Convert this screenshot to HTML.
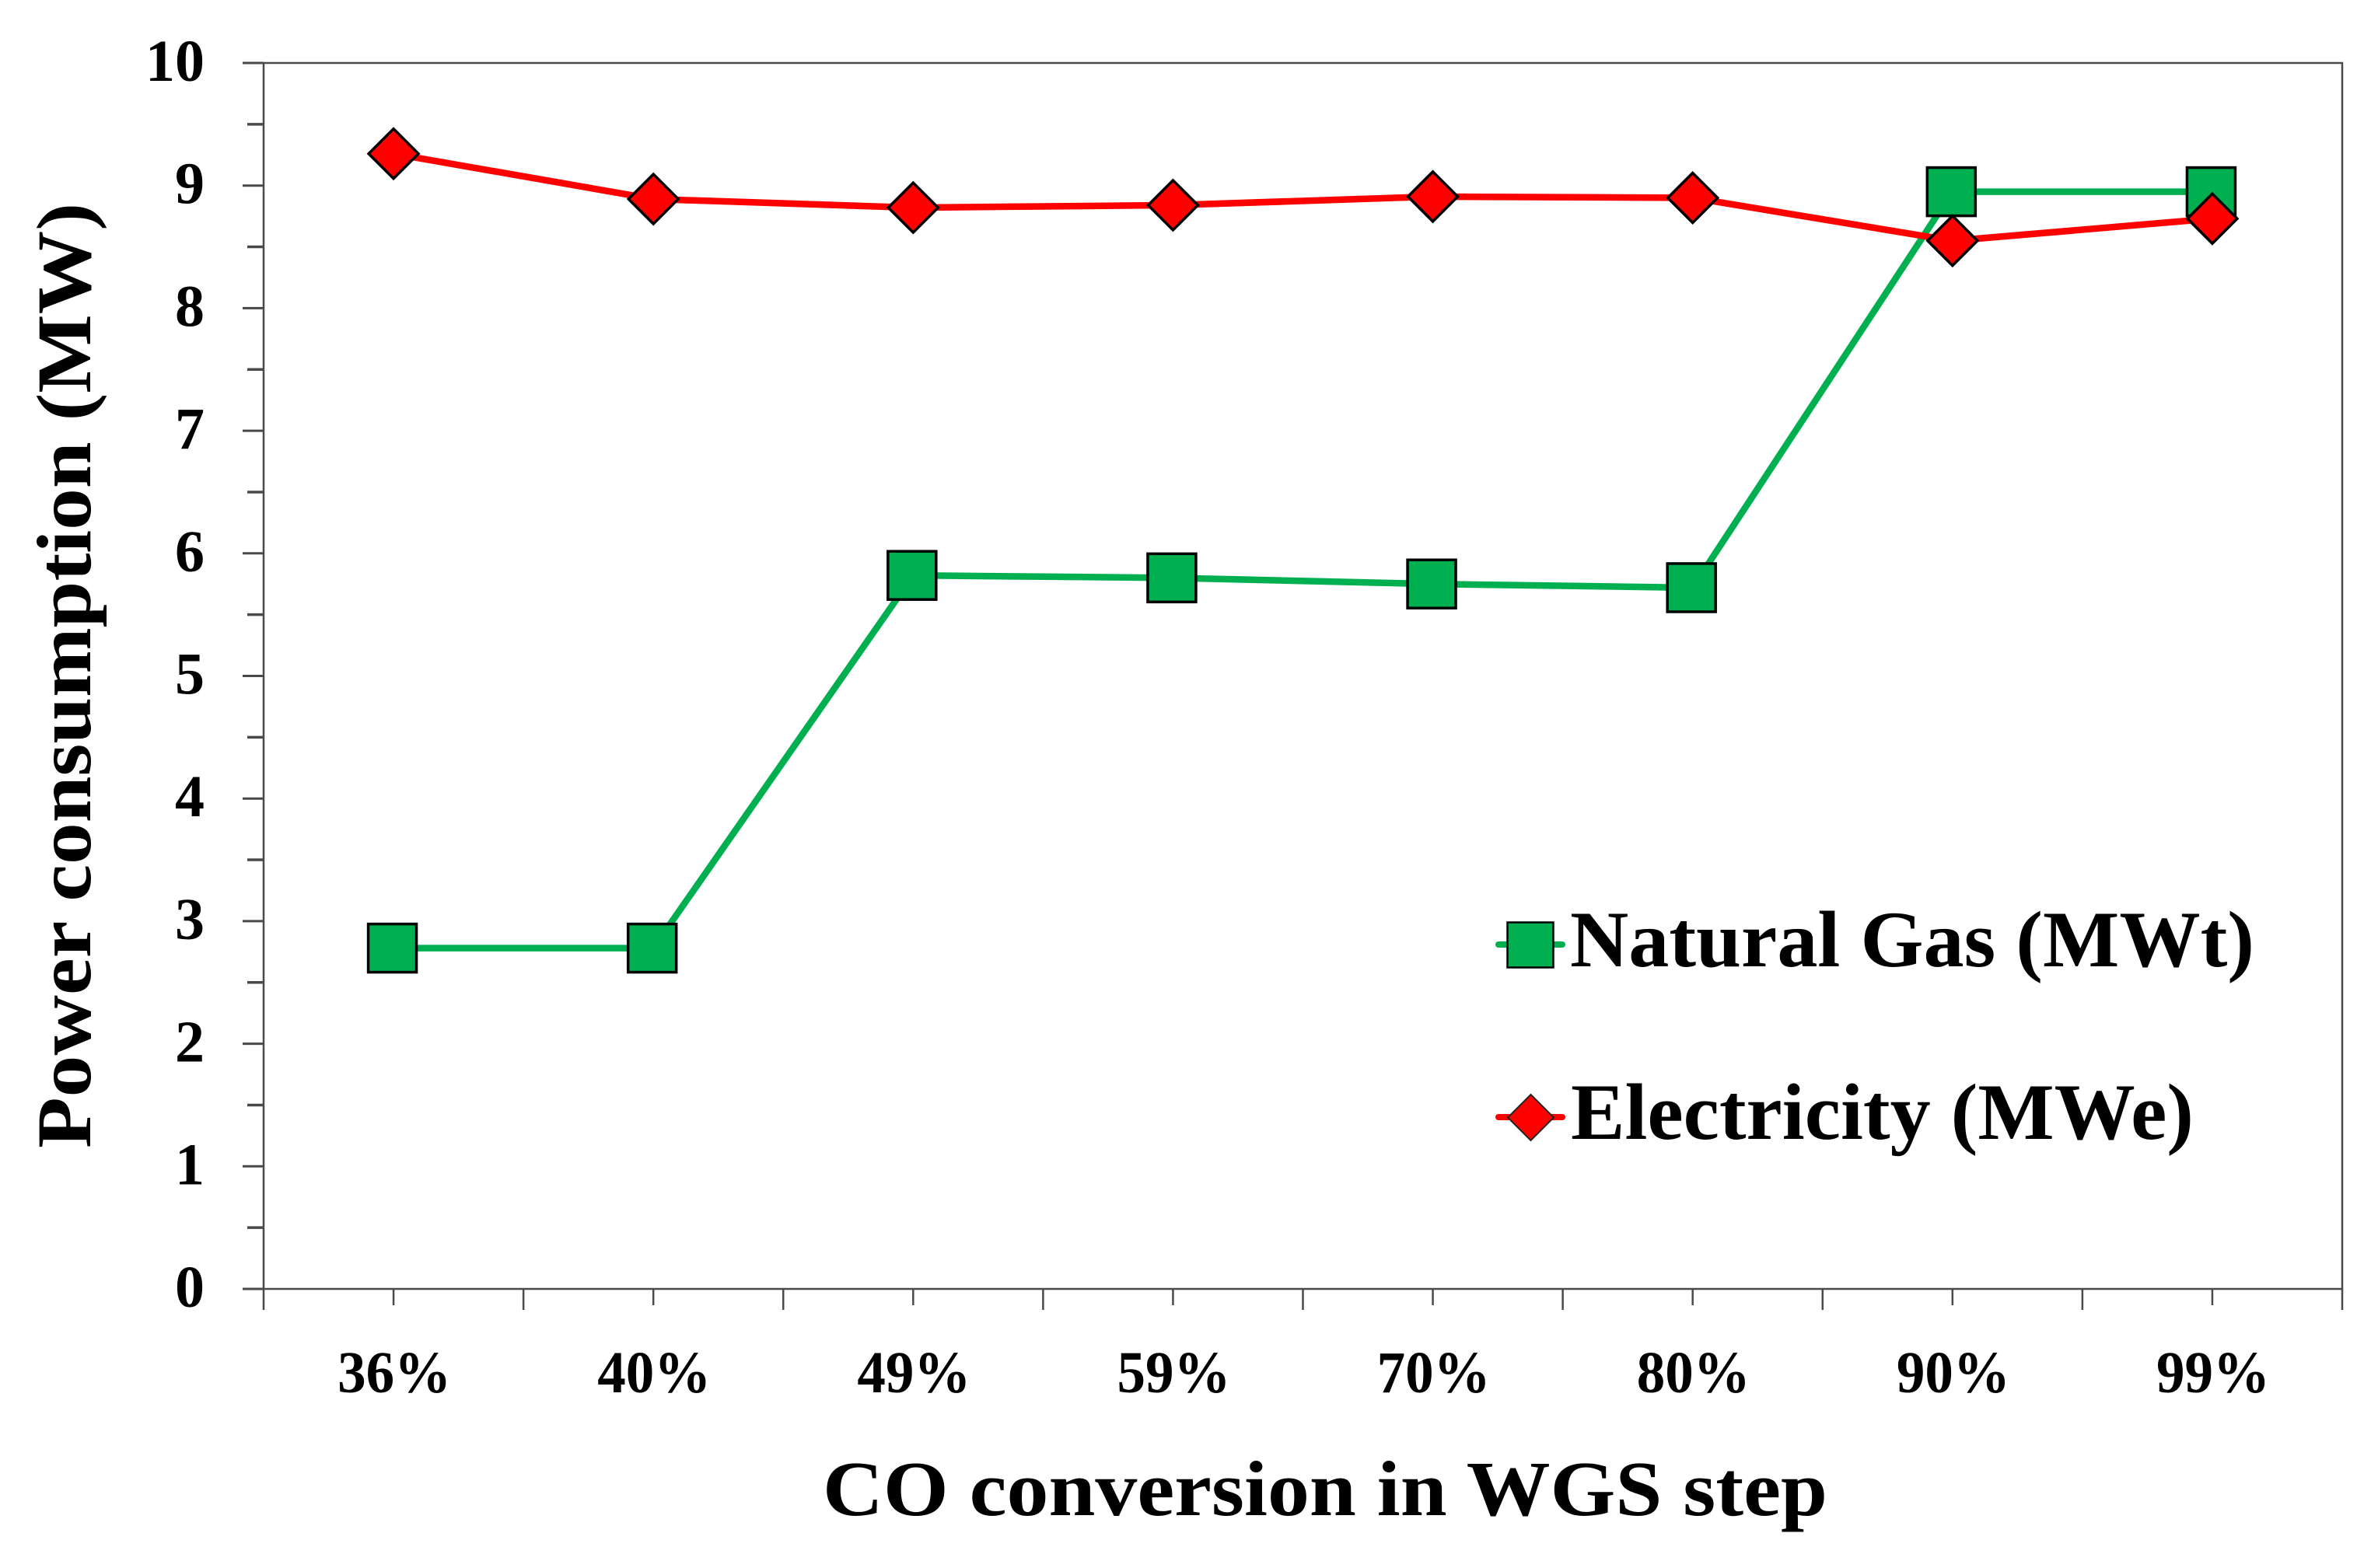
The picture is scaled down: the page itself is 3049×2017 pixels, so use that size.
<!DOCTYPE html>
<html lang="en">
<head>
<meta charset="utf-8">
<title>Power consumption vs CO conversion</title>
<style>
html,body{margin:0;padding:0;background:#fff;}
svg{display:block;}
text{font-family:"Liberation Serif","Noto Serif CJK SC",serif;font-weight:700;fill:#000;}
</style>
</head>
<body>
<svg id="chart" xmlns="http://www.w3.org/2000/svg" width="3049" height="2017" viewBox="0 0 3049 2017">
  <rect x="0" y="0" width="3049" height="2017" fill="#fff"/>
  <g id="axes"></g>
  <g id="series"></g>
  <text x="1058" y="1949" font-size="101" textLength="1292" lengthAdjust="spacingAndGlyphs">CO conversion in WGS step</text>
  <text transform="translate(116,1477) rotate(-90)" font-size="100" textLength="1216" lengthAdjust="spacingAndGlyphs">Power consumption (MW)</text>
  <g>
    <g>
      <line x1="1927" y1="1215" x2="2009" y2="1215" stroke="#00b050" stroke-width="8" stroke-linecap="round"/>
      <rect x="1938.5" y="1186.5" width="59" height="58" fill="#00b050" stroke="#000" stroke-width="2.5"/>
      <text x="2019" y="1243" font-size="103" textLength="880" lengthAdjust="spacingAndGlyphs">Natural Gas (MWt)</text>
    </g>
    <g>
      <line x1="1927" y1="1437" x2="2009" y2="1437" stroke="#ff0000" stroke-width="8" stroke-linecap="round"/>
      <polygon points="1968.5,1408 1998,1437.5 1968.5,1467 1939,1437.5" fill="#ff0000" stroke="#222" stroke-width="2"/>
      <text x="2020" y="1465" font-size="103" textLength="801" lengthAdjust="spacingAndGlyphs">Electricity (MWe)</text>
    </g>
  </g>
</svg>
<script>
var categories = ['36%', '40%', '49%', '59%', '70%', '80%', '90%', '99%'];
var naturalGasValues = [2.78, 2.78, 5.82, 5.80, 5.75, 5.72, 8.95, 8.95];
var electricityValues = [9.26, 8.89, 8.82, 8.84, 8.91, 8.90, 8.55, 8.73];
var yTickLabels = [0, 1, 2, 3, 4, 5, 6, 7, 8, 9, 10];

var plotLeft = 339, plotRight = 3012, plotTop = 81, plotBottom = 1658;
var yMin = 0, yMax = 10;
var NS = 'http://www.w3.org/2000/svg';
var axes = document.getElementById('axes');
var series = document.getElementById('series');
var axisColor = '#4a4a4a';

function xAt(i) { return plotLeft + (i + 0.5) * (plotRight - plotLeft) / categories.length; }
function xEdge(i) { return plotLeft + i * (plotRight - plotLeft) / categories.length; }
function yAt(v) { return plotBottom - (v - yMin) * (plotBottom - plotTop) / (yMax - yMin); }

function make(parent, tag, attrs) {
  var el = document.createElementNS(NS, tag);
  for (var k in attrs) { el.setAttribute(k, attrs[k]); }
  parent.appendChild(el);
  return el;
}

var frame = make(axes, 'rect', {x: plotLeft, y: plotTop, width: plotRight - plotLeft, height: plotBottom - plotTop, fill: 'none', stroke: axisColor, 'stroke-width': 2.5});



yTickLabels.forEach(function (v, idx) {
  var t = make(axes, 'line', {x1: 312, x2: plotLeft, y1: yAt(v), y2: yAt(v), stroke: axisColor, 'stroke-width': 3});
  
  
  var lab = make(axes, 'text', {x: 263, y: yAt(v) + 23, 'text-anchor': 'end', 'font-size': 76});
  
  
  lab.textContent = String(v);
  if (idx < yTickLabels.length - 1) {
    var m = make(axes, 'line', {x1: 318, x2: plotLeft, y1: yAt(v + 0.5), y2: yAt(v + 0.5), stroke: axisColor, 'stroke-width': 3.5});
    
    
  }
});

for (var e = 0; e <= categories.length; e++) {
  var et = make(axes, 'line', {x1: xEdge(e), x2: xEdge(e), y1: plotBottom, y2: 1685, stroke: axisColor, 'stroke-width': 2.5});
  
  
}

categories.forEach(function (c, i) {
  var ct = make(axes, 'line', {x1: xAt(i), x2: xAt(i), y1: plotBottom, y2: 1679, stroke: axisColor, 'stroke-width': 2.5});
  
  
  var lab = make(axes, 'text', {x: xAt(i) + 1, y: 1791, 'text-anchor': 'middle', 'font-size': 76, textLength: 146, lengthAdjust: 'spacingAndGlyphs'});
  
  
  lab.textContent = c;
});

function pointsFor(values) {
  return values.map(function (v, i) { return xAt(i) + ',' + yAt(v); }).join(' ');
}

var gasLine = make(series, 'polyline', {points: pointsFor(naturalGasValues), fill: 'none', stroke: '#00b050', 'stroke-width': 8.5});



naturalGasValues.forEach(function (v, i) {
  var s = make(series, 'rect', {x: xAt(i) - 1.5 - 31, y: yAt(v) - 31, width: 62, height: 62, fill: '#00b050', stroke: '#000', 'stroke-width': 3.5});
  
  
});

var elecLine = make(series, 'polyline', {points: pointsFor(electricityValues), fill: 'none', stroke: '#ff0000', 'stroke-width': 8.5});



electricityValues.forEach(function (v, i) {
  var cx = xAt(i), cy = yAt(v), r = 32;
  var d = make(series, 'polygon', {points: cx + ',' + (cy - r) + ' ' + (cx + r) + ',' + cy + ' ' + cx + ',' + (cy + r) + ' ' + (cx - r) + ',' + cy, fill: '#ff0000', stroke: '#000', 'stroke-width': 3.5});
  
  
});
</script>
</body>
</html>
